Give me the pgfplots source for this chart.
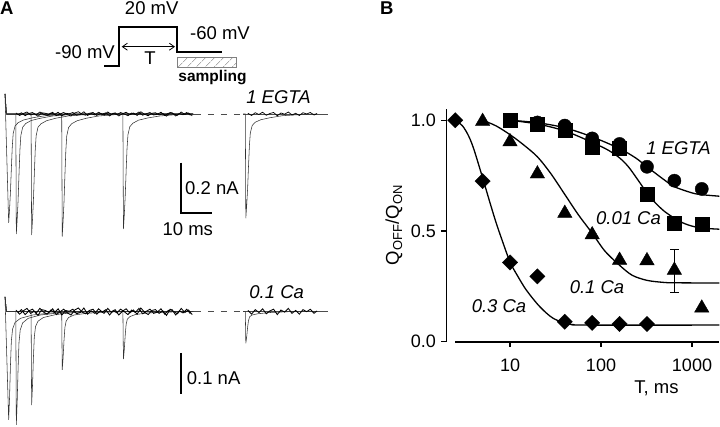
\documentclass[border=0pt]{standalone}
\usepackage{pgfplots}
\pgfplotsset{compat=1.18}
\usepackage{pgfplotstable}
\usepackage{fontspec}
\setmainfont{Liberation Sans}
\usetikzlibrary{arrows.meta,patterns.meta}
\newcommand{\fs}{\fontsize{18.5}{22}\selectfont}
\newcommand{\fst}{\fontsize{18}{21}\selectfont}

\pgfplotstableread{
t v
5.0 0.004
6.2 -0.006
7.4 0.002
8.6 0.008
9.8 -0.004
11.0 0.001
12.2 -0.009
13.4 0.005
14.6 0.003
15.8 -0.002
17.0 0.007
18.2 -0.007
19.4 0.000
20.6 0.006
21.8 -0.003
23.0 -0.008
24.2 0.004
25.4 0.009
26.6 -0.001
27.8 -0.005
29.0 0.003
30.2 0.006
31.4 -0.006
32.6 0.002
33.8 -0.004
35.0 0.008
36.2 -0.002
37.4 0.005
38.6 -0.008
39.8 0.001
41.0 0.007
42.2 -0.003
43.4 0.004
44.6 -0.006
45.8 0.009
47.0 -0.001
48.2 -0.007
49.4 0.003
50.6 0.005
51.8 -0.004
53.0 0.002
54.2 -0.009
55.4 0.006
56.6 0.000
57.8 -0.005
59.0 0.008
60.2 -0.002
61.4 0.004
62.6 -0.007
}\noiseA

\pgfplotstableread{
t v
5.6 -0.003
6.8 0.005
8.0 -0.007
9.2 0.002
10.4 0.006
11.6 -0.004
12.8 0.008
14.0 -0.001
15.2 -0.006
16.4 0.004
17.6 -0.002
18.8 0.007
20.0 -0.008
21.2 0.003
22.4 0.001
23.6 0.006
24.8 -0.005
26.0 -0.002
27.2 0.009
28.4 -0.006
29.6 0.002
30.8 -0.004
32.0 0.007
33.2 -0.001
34.4 0.005
35.6 -0.008
36.8 0.003
38.0 -0.003
39.2 0.006
40.4 0.000
41.6 -0.007
42.8 0.004
44.0 -0.002
45.2 0.008
46.4 -0.005
47.6 0.001
48.8 0.006
50.0 -0.004
51.2 -0.001
52.4 0.007
53.6 -0.006
54.8 0.003
56.0 0.005
57.2 -0.008
58.4 0.002
59.6 -0.003
60.8 0.006
62.0 -0.005
}\noiseB

\pgfplotstableread{
t v
80.8 0.003
82.0 -0.006
83.2 0.005
84.4 -0.002
85.6 0.007
86.8 -0.005
88.0 0.002
89.2 0.006
90.4 -0.007
91.6 0.004
92.8 -0.001
94.0 0.008
95.2 -0.004
96.4 0.003
97.6 -0.006
98.8 0.005
100.0 0.000
101.2 0.006
102.4 -0.004
103.4 0.002
}\noiseC

\begin{document}
\begin{tikzpicture}[x=1pt,y=1pt]
\path[use as bounding box] (0,0) rectangle (720,427);

% ---------------- Panel A: protocol ----------------
\node[anchor=west,inner sep=0,font=\fs\bfseries] at (0,418.5) {A};
\node[font=\fs,inner sep=0] at (151.7,419.3) {20 mV};
\node[anchor=east,font=\fs,inner sep=0] at (115,375.3) {-90 mV};
\node[anchor=west,font=\fs,inner sep=0] at (190,394) {-60 mV};
\draw[line width=1.8pt,line join=miter] (104,361.3) -- (119,361.3) -- (119,399.7) -- (176.7,399.7) -- (176.7,375.3) -- (221.7,375.3);
\draw[line width=0.8pt,{Straight Barb[length=5pt,width=7pt]}-{Straight Barb[length=5pt,width=7pt]}] (121.7,380.3) -- (175,380.3);
\node[font=\fs,inner sep=0] at (150,368.7) {T};
\draw[gray,line width=0.7pt,pattern={Lines[angle=45,distance=6.5pt,line width=0.7pt]},pattern color=gray] (177.7,359.3) rectangle (236.7,369.7);
\node[font=\fontsize{15.5}{18}\selectfont\bfseries,inner sep=0] at (212.5,349.7) {sampling};

% ---------------- Panel A: 1 EGTA traces ----------------
\begin{axis}[at={(0.65pt,188pt)},anchor=south west,scale only axis,
  width=306pt,height=150pt,xmin=0,xmax=100,ymin=-0.5,ymax=0.1,
  hide axis,clip=false]
\draw[black!70,line width=0.5pt] (axis cs:1.98,0) -- (axis cs:63.5,0);
\draw[black!70,line width=0.5pt,dash pattern=on 6pt off 7pt] (axis cs:63.5,0) -- (axis cs:79.2,0);
\draw[black!70,line width=0.5pt] (axis cs:79.2,0) -- (axis cs:107,0);
\addplot[black!80,line width=0.55pt] coordinates {(1.42,0.08) (2.62,-0.435) (2.9,-0.383) (3.2,-0.313) (3.5,-0.218) (3.8,-0.131) (4.1,-0.078) (4.7,-0.048) (5.7,-0.035) (7.5,-0.024) (10.5,-0.015) (14.5,-0.007) (19.5,-0.003) (24.5,0) (62.9,0)};
\addplot[black!80,line width=0.55pt] coordinates {(1.42,0.08) (1.9,0) (4.95,0) (5.12,-0.48) (5.4,-0.422) (5.7,-0.346) (6.0,-0.24) (6.3,-0.144) (6.6,-0.086) (7.2,-0.053) (8.2,-0.038) (10,-0.026) (13,-0.017) (17,-0.008) (22,-0.003) (27,0) (62.9,0)};
\addplot[black!80,line width=0.55pt] coordinates {(1.42,0.08) (1.9,0) (9.95,0) (10.12,-0.484) (10.4,-0.426) (10.7,-0.348) (11.0,-0.242) (11.3,-0.145) (11.6,-0.087) (12.2,-0.053) (13.2,-0.039) (15,-0.027) (18,-0.017) (22,-0.008) (27,-0.003) (32,0) (62.9,0)};
\addplot[black!80,line width=0.55pt] coordinates {(1.42,0.08) (1.9,0) (19.95,0) (20.12,-0.49) (20.4,-0.431) (20.7,-0.353) (21.0,-0.245) (21.3,-0.147) (21.6,-0.088) (22.2,-0.054) (23.2,-0.039) (25,-0.027) (28,-0.017) (32,-0.008) (37,-0.003) (42,0) (62.9,0)};
\addplot[black!80,line width=0.55pt] coordinates {(1.42,0.08) (1.9,0) (39.95,0) (40.12,-0.46) (40.4,-0.405) (40.7,-0.331) (41,-0.23) (41.3,-0.138) (41.6,-0.083) (42.2,-0.051) (43.2,-0.037) (45,-0.025) (48,-0.016) (52,-0.008) (57,-0.003) (62,0) (62.9,0)};
\addplot[black!80,line width=0.55pt] coordinates {(79.2,0) (79.95,0) (80.12,-0.417) (80.4,-0.367) (80.7,-0.3) (81,-0.209) (81.3,-0.125) (81.6,-0.075) (82.2,-0.046) (83.2,-0.033) (85,-0.023) (88,-0.015) (92,-0.007) (97,-0.003) (103.4,0)};
\addplot[black,line width=0.7pt] table[x=t,y=v] {\noiseA};
\addplot[black,line width=0.7pt] table[x=t,y=v] {\noiseB};
\addplot[black,line width=0.7pt] table[x=t,y=v] {\noiseC};
\draw[line width=2.2pt,line join=miter] (axis cs:58.94,-0.195) -- (axis cs:58.94,-0.395) -- (axis cs:68.94,-0.395);
\end{axis}
\node[font=\fs\itshape,inner sep=0] at (278.5,330) {1 EGTA};
\node[anchor=west,font=\fs,inner sep=0] at (185,238.7) {0.2 nA};
\node[font=\fs,inner sep=0] at (187.8,198) {10 ms};

% ---------------- Panel A: 0.1 Ca traces ----------------
\begin{axis}[at={(0.65pt,3.8pt)},anchor=south west,scale only axis,
  width=306pt,height=132.15pt,xmin=0,xmax=100,ymin=-0.27,ymax=0.05,
  hide axis,clip=false]
\draw[black!70,line width=0.5pt] (axis cs:1.98,0) -- (axis cs:63.5,0);
\draw[black!70,line width=0.5pt,dash pattern=on 6pt off 7pt] (axis cs:63.5,0) -- (axis cs:79.2,0);
\draw[black!70,line width=0.5pt] (axis cs:79.2,0) -- (axis cs:107,0);
\addplot[black!80,line width=0.55pt] coordinates {(1.42,0.036) (2.62,-0.262) (2.9,-0.21) (3.2,-0.131) (3.5,-0.071) (3.9,-0.042) (4.7,-0.026) (6.5,-0.016) (10.5,-0.008) (16.5,-0.003) (22.5,0) (62.9,0)};
\addplot[black!80,line width=0.55pt] coordinates {(1.42,0.036) (1.9,0) (4.95,0) (5.12,-0.274) (5.4,-0.219) (5.7,-0.137) (6.0,-0.074) (6.4,-0.044) (7.2,-0.027) (9,-0.016) (13,-0.008) (19,-0.003) (25,0) (62.9,0)};
\addplot[black!80,line width=0.55pt] coordinates {(1.42,0.036) (1.9,0) (9.95,0) (10.12,-0.226) (10.4,-0.181) (10.7,-0.113) (11,-0.061) (11.4,-0.036) (12.2,-0.023) (14,-0.014) (18,-0.007) (24,-0.002) (30,0) (62.9,0)};
\addplot[black!80,line width=0.55pt] coordinates {(1.42,0.036) (1.9,0) (19.95,0) (20.12,-0.141) (20.4,-0.113) (20.7,-0.07) (21,-0.038) (21.4,-0.023) (22.2,-0.014) (24,-0.008) (28,-0.004) (34,-0.001) (40,0) (62.9,0)};
\addplot[black!80,line width=0.55pt] coordinates {(1.42,0.036) (1.9,0) (39.95,0) (40.12,-0.115) (40.4,-0.092) (40.7,-0.058) (41,-0.031) (41.4,-0.018) (42.2,-0.012) (44,-0.007) (48,-0.003) (54,-0.001) (60,0) (62.9,0)};
\addplot[black!80,line width=0.55pt] coordinates {(79.2,0) (79.95,0) (80.12,-0.0765) (80.4,-0.061) (80.7,-0.038) (81,-0.021) (81.4,-0.012) (82.2,-0.008) (84,-0.005) (88,-0.002) (94,0) (103.4,0)};
\addplot[black,line width=0.85pt] table[x=t,y=v] {\noiseA};
\addplot[black,line width=0.85pt] table[x=t,y=v] {\noiseB};
\addplot[black,line width=0.85pt] table[x=t,y=v] {\noiseC};
\draw[line width=2.2pt] (axis cs:58.94,-0.1) -- (axis cs:58.94,-0.2);
\end{axis}
\node[font=\fs\itshape,inner sep=0] at (276.7,135.3) {0.1 Ca};
\node[anchor=west,font=\fs,inner sep=0] at (186.7,48.7) {0.1 nA};

% ---------------- Panel B ----------------
\node[anchor=west,inner sep=0,font=\fs\bfseries] at (380,418.5) {B};
\begin{axis}[at={(446.4pt,85.3pt)},anchor=south west,scale only axis,
  width=273pt,height=232.5pt,
  xmode=log,xmin=2,xmax=2000,ymin=0,ymax=1.05,
  axis x line*=bottom,axis y line*=left,
  axis line style={line width=1.8pt,-},
  x axis line style={shorten <=8.6pt},
  xtick={10,100,1000},xticklabels={10,100,1000},
  ytick={0,0.5,1},yticklabels={0.0,0.5,1.0},
  xminorticks=false,yminorticks=false,
  tick align=outside,major tick length=5pt,
  tick style={line width=1.5pt,black},
  ticklabel style={font=\fst},
  xticklabel shift=9pt,yticklabel shift=2pt,
  /pgf/number format/assume math mode=true,
  clip=false]
% fitted curves
\addplot[black,line width=1.3pt,smooth] coordinates {(10,1.0) (20,0.989) (40,0.966) (80,0.925) (160,0.872) (240,0.83) (320,0.79) (480,0.735) (640,0.70) (1000,0.672) (1280,0.664) (2000,0.657)};
\addplot[black,line width=1.3pt,smooth] coordinates {(10,1.0) (20,0.983) (40,0.952) (80,0.9) (120,0.865) (160,0.83) (200,0.79) (250,0.735) (320,0.672) (400,0.625) (500,0.588) (640,0.558) (800,0.536) (1000,0.522) (1280,0.513) (2000,0.508)};
\addplot[black,line width=1.3pt,smooth] coordinates {(5,1.0) (7,0.975) (10,0.935) (14,0.89) (20,0.835) (28,0.76) (40,0.665) (56,0.575) (80,0.49) (110,0.41) (160,0.345) (220,0.3) (320,0.277) (480,0.268) (640,0.266) (2000,0.265)};
\addplot[black,line width=1.3pt,smooth] coordinates {(2.5,1.0) (3,0.975) (3.5,0.93) (4,0.87) (5,0.74) (6,0.63) (7,0.54) (8,0.47) (10,0.36) (12,0.3) (15,0.235) (20,0.17) (25,0.13) (30,0.105) (40,0.083) (50,0.077) (70,0.075) (2000,0.075)};
% error bar
\addplot[black,line width=1pt] coordinates {(640,0.223) (640,0.417)};
\addplot[black,line width=1pt] coordinates {(573,0.417) (715,0.417)};
\addplot[black,line width=1pt] coordinates {(573,0.223) (715,0.223)};
% data
\addplot[only marks,mark=*,mark size=6.6pt,black] coordinates {(10,1.0) (20,0.99) (40,0.976) (80,0.918) (160,0.893) (320,0.79) (640,0.727) (1280,0.69)};
\addplot[only marks,mark=square*,mark size=7pt,black] coordinates {(10,1.0) (20,0.983) (40,0.953) (80,0.878) (160,0.875) (320,0.667) (640,0.535) (1280,0.532)};
\addplot[only marks,mark=triangle*,mark size=8.3pt,black] coordinates {(5,0.995) (10,0.903) (20,0.758) (40,0.58) (80,0.483) (160,0.368) (320,0.366) (640,0.323) (1280,0.152)};
\addplot[only marks,mark=square*,mark size=5.4pt,mark options={rotate=45},black] coordinates {(2.5,1.0) (5,0.725) (10,0.358) (20,0.295) (40,0.09) (80,0.085) (160,0.08) (320,0.08)};
\end{axis}
\node[font=\fs\itshape,inner sep=0] at (678.5,278.7) {1 EGTA};
\node[font=\fs\itshape,inner sep=0] at (628.5,208.7) {0.01 Ca};
\node[font=\fs\itshape,inner sep=0] at (597,140.3) {0.1 Ca};
\node[font=\fs\itshape,inner sep=0] at (499,121) {0.3 Ca};
\node[font=\fs,inner sep=0] at (656.5,38.7) {T, ms};
\node[font=\fs,inner sep=0,rotate=90] at (394,202) {Q\textsubscript{OFF}/Q\textsubscript{ON}};
\end{tikzpicture}
\end{document}
